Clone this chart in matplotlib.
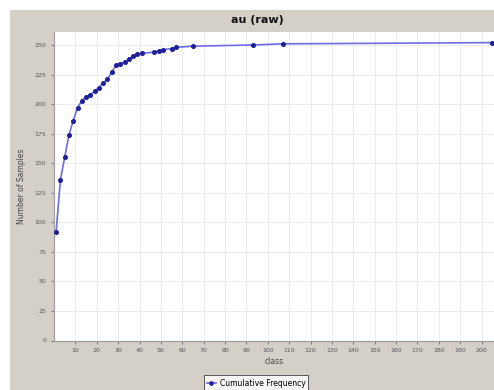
import matplotlib
matplotlib.use("Agg")
import matplotlib.pyplot as plt
from matplotlib.patches import Rectangle

# cumulative frequency per class
classes = [1, 3, 5, 7, 9, 11, 13, 15, 17, 19, 21, 23, 25, 27, 29, 31, 33, 35,
           37, 39, 41, 47, 49, 51, 55, 57, 65, 93, 107, 205]
cum_freq = [92, 136, 155, 174, 186, 197, 203, 206, 208, 211, 214, 218, 221,
            227, 233, 234, 236, 238, 241, 242, 243, 244, 245, 246, 247, 248,
            249, 250, 251, 252]

x_ticks = list(range(10, 201, 10))
y_ticks = list(range(0, 251, 25))

GREY = "#d4d0c8"
LINE = "#6c6ce6"
MARK = "#1f1f99"
TICK = "#555555"

fig = plt.figure(figsize=(4.94, 3.90), dpi=100)
fig.patch.set_facecolor("white")
fig.patches.append(Rectangle((10 / 494, 0), 1, 1 - 10 / 390,
                             transform=fig.transFigure, facecolor=GREY,
                             edgecolor="none", zorder=-10))

ax = fig.add_axes([54 / 494, 1 - 340.5 / 390, 1 - 54 / 494, (340.5 - 32) / 390])
ax.set_facecolor("white")

ax.plot(classes, cum_freq, color=LINE, lw=1.2, marker="o", ms=2.6,
        mfc=MARK, mec=MARK, label="Cumulative Frequency", clip_on=False, zorder=3)

ax.set_xlim(0, 205.8)
ax.set_ylim(0, 261)
ax.set_xticks(x_ticks)
ax.set_yticks(y_ticks)
ax.tick_params(labelsize=4.5, colors=TICK, length=2, width=0.5)
ax.grid(True, color="#e4e4e4", lw=0.5)
ax.set_axisbelow(True)
for side in ["top", "right"]:
    ax.spines[side].set_visible(False)
for side in ["left", "bottom"]:
    ax.spines[side].set_color("#9a9a9a")
    ax.spines[side].set_linewidth(0.8)

ax.set_xlabel("class", fontsize=5.5, color="#444444", labelpad=3)
ax.set_ylabel("Number of Samples", fontsize=5.5, color="#444444", labelpad=6)
fig.text(0.522, 0.948, "au (raw)", ha="center", va="center",
         fontsize=8, fontweight="bold", color="#111111")

leg = fig.legend(loc="center", bbox_to_anchor=(256 / 494, 1 - 383 / 390),
                 fontsize=5.5, frameon=True, fancybox=False, handlelength=1.2,
                 borderpad=0.4, handletextpad=0.5, markerscale=0.9)
leg.get_frame().set_edgecolor("#333333")
leg.get_frame().set_linewidth(0.7)
leg.get_frame().set_facecolor("white")

fig.savefig("out.png", dpi=100)
